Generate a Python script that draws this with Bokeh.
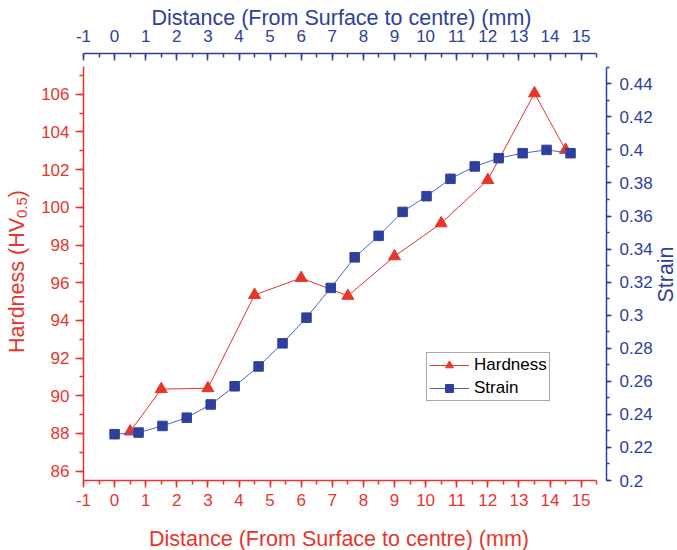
from math import pi
from bokeh.plotting import figure
from bokeh.models import (Range1d, LinearAxis, SingleIntervalTicker, Label, Legend,
                          LegendItem, CustomJSTickFormatter)
from bokeh.embed import file_html
from bokeh.resources import INLINE

# ---------------- data ----------------
hard_x = [0.5, 1.5, 3.0, 4.5, 6.0, 7.5, 9.0, 10.5, 12.0, 13.5, 14.5]
hard_y = [88.1, 90.35, 90.4, 95.35, 96.25, 95.3, 97.4, 99.15, 101.45, 106.05, 103.05]
strain_x = [0.0, 0.77, 1.54, 2.32, 3.09, 3.86, 4.63, 5.40, 6.17, 6.95,
            7.72, 8.49, 9.26, 10.03, 10.80, 11.58, 12.35, 13.12, 13.89, 14.66]
strain_y = [0.228, 0.229, 0.233, 0.238, 0.246, 0.257, 0.269, 0.283, 0.2985, 0.3165,
            0.335, 0.348, 0.3625, 0.372, 0.3825, 0.390, 0.395, 0.398, 0.400, 0.398]
x_title = "Distance (From Surface to centre) (mm)"
y_title_main = "Hardness (HV"
y_title_sub = "0.5"
y_title_end = ")"
y2_title = "Strain"
series_names = ["Hardness", "Strain"]

# ---------------- style / layout ----------------
RED = "#E6362C"
BLUE = "#2E409C"
BLUE_LINE = "#5264BA"
FONT = "Liberation Sans"
W, H = 677, 550
AX_L, AX_R, AX_T, AX_B = 83, 606, 53, 480   # axis line positions in px
X0, KX = -1.0, 31.1                         # x at AX_L, px per unit
Y0, KY = 85.5, 18.84                        # hardness at AX_B, px per unit
S0, KS = 0.2, 1653.0                        # strain at AX_B, px per unit
TXT_SHIFT = 6.5                             # label anchor vs. visual baseline

def dx(px):
    return X0 + (px - AX_L) / KX

def dy(py):
    return Y0 + (AX_B - py) / KY

def ds(py):
    return S0 + (AX_B - py) / KS

# frame spans the whole canvas; axes are pinned with fixed_location
p = figure(width=W, height=H,
           x_range=Range1d(dx(0), dx(W)),
           y_range=Range1d(dy(H), dy(0)),
           output_backend="svg", toolbar_location=None,
           x_axis_location=None, y_axis_location=None,
           min_border=0, min_border_left=0, min_border_right=0,
           min_border_top=0, min_border_bottom=0)
p.extra_y_ranges = {"strain": Range1d(ds(H), ds(0))}
p.outline_line_color = None
for g in p.grid:
    g.visible = False
p.background_fill_color = "white"
p.border_fill_color = "white"

def style_axis(ax, color, tin, tout, mtin, mtout, standoff):
    ax.axis_line_color = color
    ax.axis_line_width = 1.5
    ax.major_tick_line_color = color
    ax.minor_tick_line_color = color
    ax.major_tick_line_width = 1.5
    ax.minor_tick_line_width = 1.5
    ax.major_tick_in = tin
    ax.major_tick_out = tout
    ax.minor_tick_in = mtin
    ax.minor_tick_out = mtout
    ax.major_label_text_color = color
    ax.major_label_text_font = FONT
    ax.major_label_text_font_size = "17px"
    ax.major_label_standoff = standoff

int_fmt = "return tick.toFixed(0);"
bottom = LinearAxis(ticker=SingleIntervalTicker(interval=1, num_minor_ticks=2), bounds=(-1, 15.5),
                    fixed_location=Y0, formatter=CustomJSTickFormatter(code=int_fmt))
style_axis(bottom, RED, 0, 7, 0, 4, 6)
p.add_layout(bottom, "below")

top = LinearAxis(ticker=SingleIntervalTicker(interval=1, num_minor_ticks=2), bounds=(-1, 15.5),
                 fixed_location=dy(AX_T), formatter=CustomJSTickFormatter(code=int_fmt))
style_axis(top, BLUE, 7, 0, 4, 0, 12)
p.add_layout(top, "above")

left = LinearAxis(ticker=SingleIntervalTicker(interval=2, num_minor_ticks=2), bounds=(85.5, 107.45),
                  fixed_location=X0, formatter=CustomJSTickFormatter(code=int_fmt))
style_axis(left, RED, 0, 8, 0, 4, 6)
p.add_layout(left, "left")

right = LinearAxis(y_range_name="strain",
                   ticker=SingleIntervalTicker(interval=0.02, num_minor_ticks=2),
                   bounds=(0.2, 0.45), fixed_location=dx(AX_R),
                   formatter=CustomJSTickFormatter(code="return parseFloat(tick.toFixed(2)).toString();"))
style_axis(right, BLUE, 0, 5, 0, 3, 8)
p.add_layout(right, "right")

# ---------------- series ----------------
rh_line = p.line(hard_x, hard_y, line_color=RED, line_width=1)
rh_pts = p.scatter(hard_x, hard_y, marker="triangle", size=12, fill_color=RED, line_color=RED)
rs_line = p.line(strain_x, strain_y, line_color=BLUE_LINE, line_width=1, y_range_name="strain")
rs_pts = p.scatter(strain_x, strain_y, marker="square", size=9.5, fill_color=BLUE,
                   line_color=BLUE, y_range_name="strain")

legend = Legend(items=[LegendItem(label=series_names[0], renderers=[rh_line, rh_pts]),
                       LegendItem(label=series_names[1], renderers=[rs_line, rs_pts])],
                location=(426, H - 401), margin=0, padding=2, spacing=3,
                glyph_width=40, glyph_height=20, label_height=20, label_standoff=5,
                label_text_font=FONT, label_text_font_size="17px", label_text_color="black",
                border_line_color="#555555", border_line_width=1,
                background_fill_color="white", background_fill_alpha=1.0)
p.add_layout(legend)

# ---------------- titles ----------------
TS = 21.5
p.add_layout(Label(x=dx(338.5), y=dy(545 - TXT_SHIFT), text=x_title, text_align="center",
                   text_baseline="alphabetic", text_font=FONT, text_font_size=f"{TS}px",
                   text_color=RED))
p.add_layout(Label(x=dx(341), y=dy(23.5 - TXT_SHIFT), text=x_title, text_align="center",
                   text_baseline="alphabetic", text_font=FONT, text_font_size=f"{TS}px",
                   text_color=BLUE))
p.add_layout(Label(x=dx(671.5 - TXT_SHIFT), y=dy(274), text=y2_title, angle=pi / 2,
                   text_align="center", text_baseline="alphabetic", text_font=FONT,
                   text_font_size=f"{TS}px", text_color=BLUE))

# left title with subscript, built from pieces (Arial/Liberation advance widths)
SUB = 15.0
w_main = 6.279 * TS
w_sub = 1.39 * SUB
total = w_main + w_sub + 0.333 * TS
start = 271 + total / 2.0
base_x = 23 - TXT_SHIFT
p.add_layout(Label(x=dx(base_x), y=dy(start), text=y_title_main, angle=pi / 2,
                   text_align="left", text_baseline="alphabetic", text_font=FONT,
                   text_font_size=f"{TS}px", text_color=RED))
p.add_layout(Label(x=dx(base_x + 4.5), y=dy(start - w_main), text=y_title_sub, angle=pi / 2,
                   text_align="left", text_baseline="alphabetic", text_font=FONT,
                   text_font_size=f"{SUB}px", text_color=RED))
p.add_layout(Label(x=dx(base_x), y=dy(start - w_main - w_sub), text=y_title_end, angle=pi / 2,
                   text_align="left", text_baseline="alphabetic", text_font=FONT,
                   text_font_size=f"{TS}px", text_color=RED))

open("out.html", "w").write(file_html(p, INLINE))
